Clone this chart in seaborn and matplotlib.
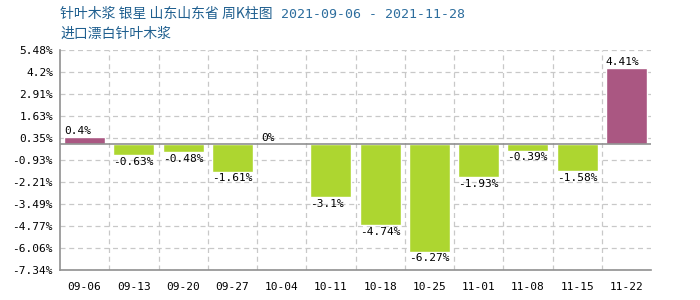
import matplotlib
matplotlib.use("Agg")
import matplotlib.pyplot as plt
import seaborn as sns
import pandas as pd

weeks = ["09-06", "09-13", "09-20", "09-27", "10-04", "10-11",
         "10-18", "10-25", "11-01", "11-08", "11-15", "11-22"]
changes = [0.4, -0.63, -0.48, -1.61, 0, -3.1, -4.74, -6.27, -1.93, -0.39, -1.58, 4.41]
yticks = [5.48, 4.2, 2.91, 1.63, 0.35, -0.93, -2.21, -3.49, -4.77, -6.06, -7.34]
labels = ["0.4%", "-0.63%", "-0.48%", "-1.61%", "0%", "-3.1%",
          "-4.74%", "-6.27%", "-1.93%", "-0.39%", "-1.58%", "4.41%"]

sns.set_theme(style="white")
plt.rcParams['font.family'] = ['Noto Sans CJK SC', 'DejaVu Sans']

df = pd.DataFrame({"week": weeks, "change": changes,
                   "sign": ["up" if v >= 0 else "down" for v in changes]})

fig = plt.figure(figsize=(7, 3), dpi=100)
ax = fig.add_axes([60/700, 30/300, 591/700, 220/300])

sns.barplot(data=df, x="week", y="change", hue="sign",
            palette={"up": "#AA5782", "down": "#ADD630"},
            dodge=False, width=0.83, legend=False, ax=ax, saturation=1)

ax.set_xlim(-0.5, len(weeks) - 0.5)
ax.set_ylim(yticks[-1], yticks[0])
ax.set_yticks(yticks)
ax.set_yticklabels([f"{t:g}%" for t in yticks], fontsize=8,
                   family=['DejaVu Sans Mono'])
ax.set_xticks(range(len(weeks)))
ax.set_xticklabels(weeks, fontsize=8, family=['DejaVu Sans Mono'])
ax.tick_params(axis='both', length=0, pad=5, colors="#000000")
ax.tick_params(axis='x', pad=9)
ax.set_xlabel("")
ax.set_ylabel("")

for t in yticks:
    ax.axhline(t, color="#C8C8C8", linestyle=(0, (4, 3)), linewidth=0.9, zorder=0)
for i in range(len(weeks) - 1):
    ax.axvline(i + 0.5, color="#C8C8C8", linestyle=(0, (4, 3)), linewidth=0.9, zorder=0)
ax.axhline(0, color="#909090", linewidth=1.2, zorder=3)

for s in ["top", "right"]:
    ax.spines[s].set_visible(False)
for s in ["left", "bottom"]:
    ax.spines[s].set_color("#909090")
    ax.spines[s].set_linewidth(1.2)

bars = sorted(ax.patches, key=lambda p: p.get_x())
bars = [b for b in bars if b.get_width() > 0]
for b, v, lab in zip(bars, changes, labels):
    x0 = b.get_x()
    if v >= 0:
        ax.text(x0, v + 0.08, lab, ha="left", va="bottom", fontsize=8,
                family=['DejaVu Sans Mono'], color="#000000")
    else:
        ax.text(x0, v - 0.1, lab, ha="left", va="top", fontsize=8,
                family=['DejaVu Sans Mono'], color="#000000")

fig.text(60/700, 1 - 14/300, "针叶木浆 银星 山东山东省 周K柱图", fontsize=10,
         color="#1F5F8F", va="center", ha="left")
fig.text(281/700, 1 - 14/300, "2021-09-06 - 2021-11-28", fontsize=9.5,
         color="#2E6E9E", va="center", ha="left", family=['DejaVu Sans Mono'])
fig.text(60/700, 1 - 34/300, "进口漂白针叶木浆", fontsize=10,
         color="#1F5F8F", va="center", ha="left")

fig.savefig("out.png", dpi=100)
